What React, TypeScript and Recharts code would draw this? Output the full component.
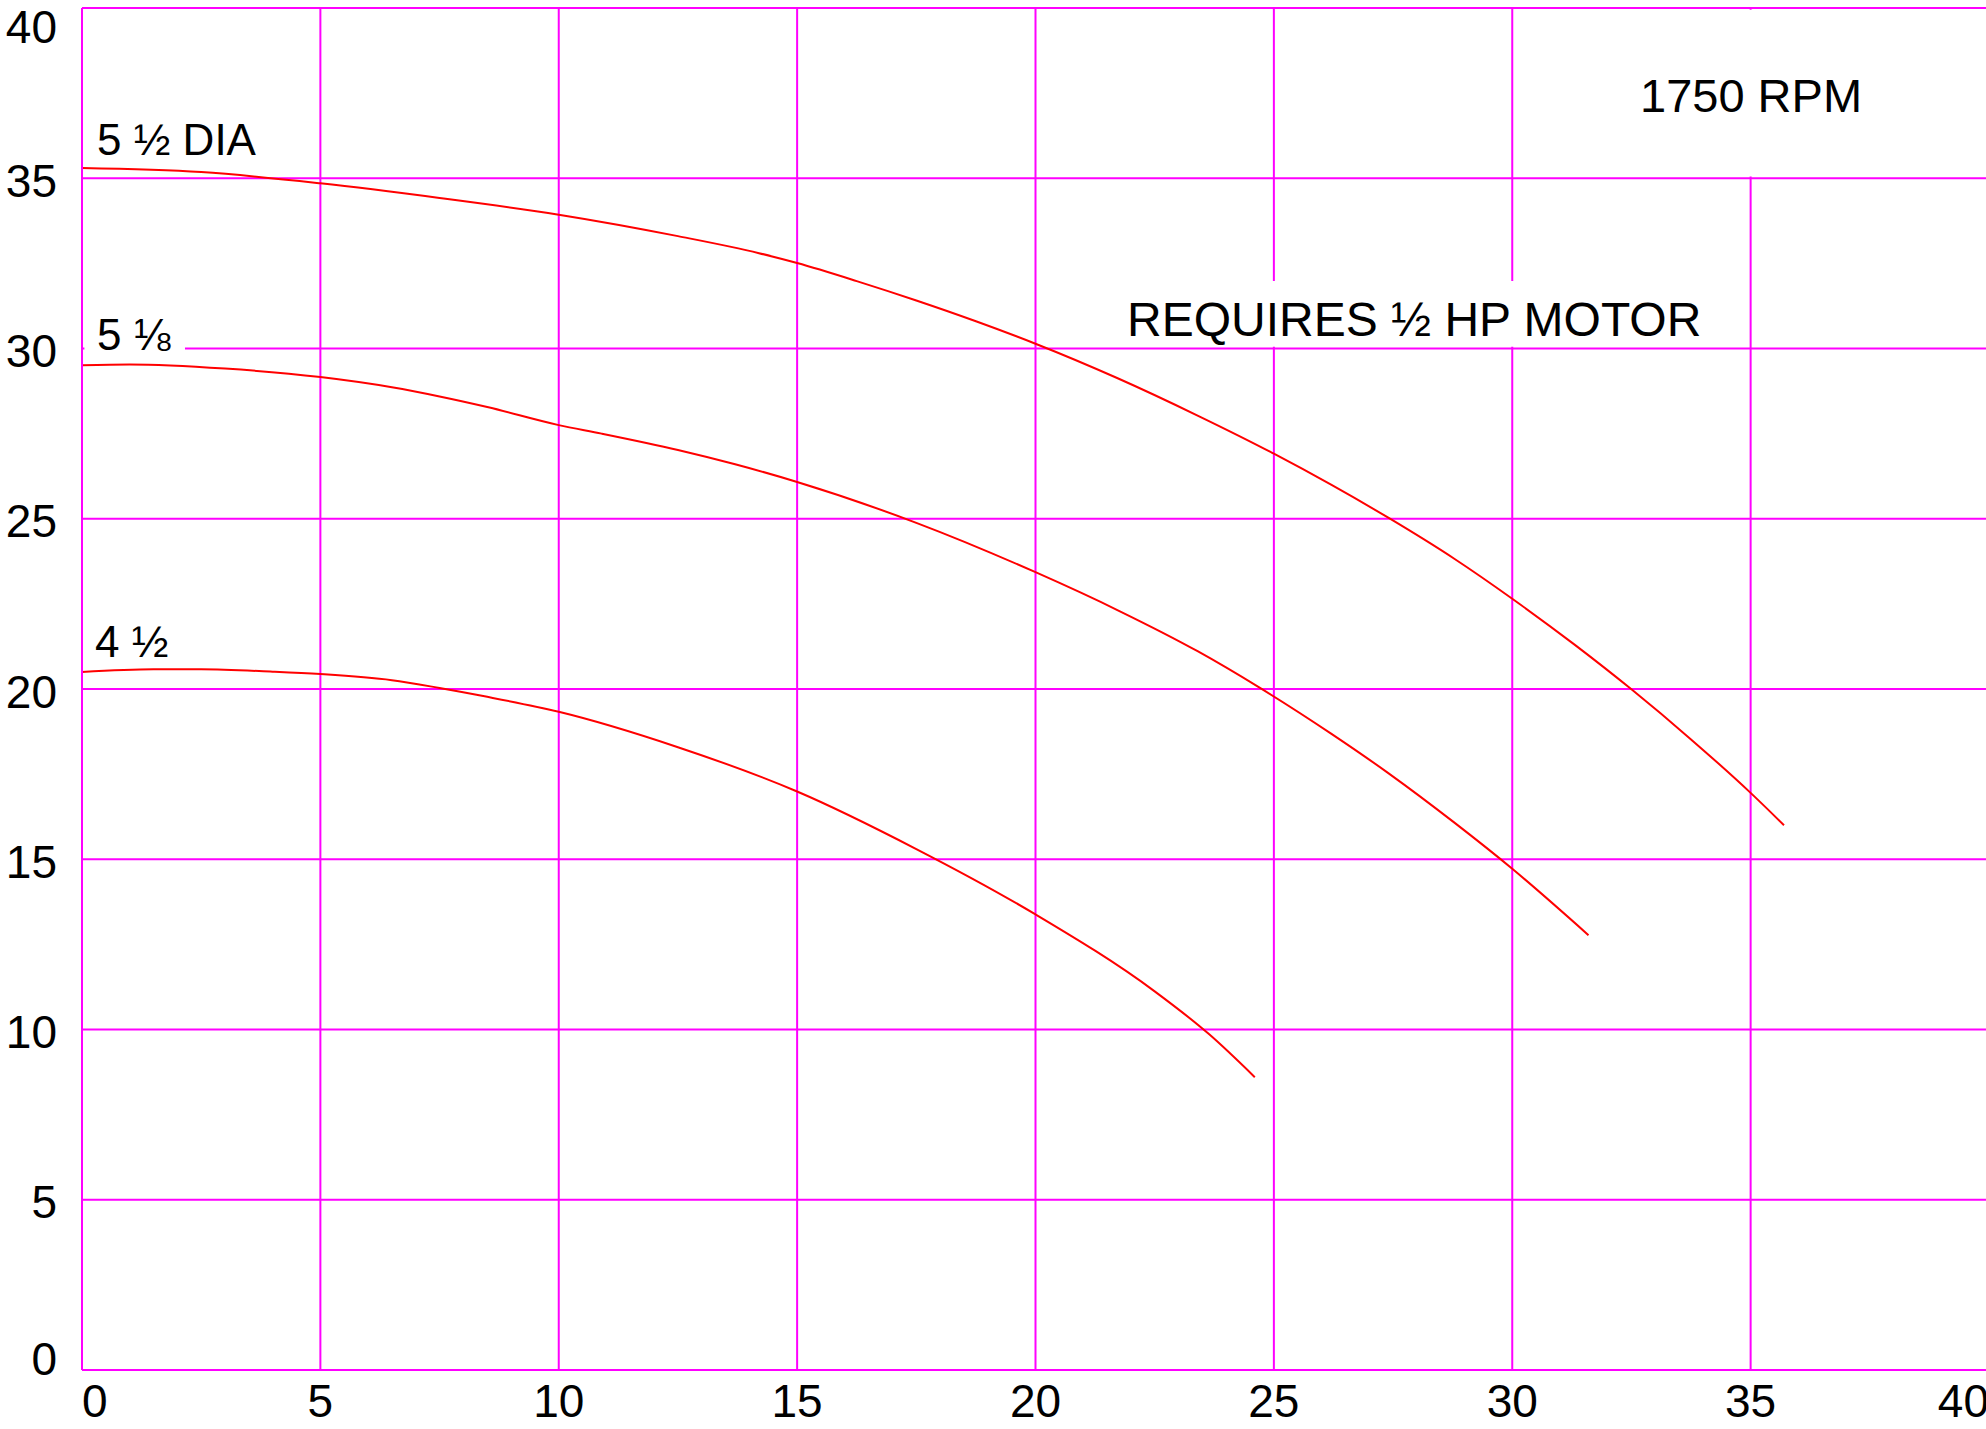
import React from "react";
import { LineChart, Line, XAxis, YAxis, CartesianGrid, ReferenceArea } from "recharts";

// flow (x) / head (y)
const flow55 = [0, 2.5, 5, 7.5, 10, 12.5, 14.2, 15, 16.25, 17.5, 18.75, 20, 21.7, 23.4, 25, 26.2, 27.4, 28.8, 30, 31.3, 32.5, 33.75, 35, 35.7];
const head55 = [35.3, 35.18, 34.85, 34.42, 33.93, 33.3, 32.8, 32.51, 31.98, 31.41, 30.8, 30.14, 29.14, 28.03, 26.91, 26.0, 25.03, 23.81, 22.65, 21.31, 19.99, 18.52, 16.95, 16.0];

const flow518 = [0, 1, 3, 5, 6.5, 7.5, 8.5, 10, 10.9, 12.5, 13.7, 15, 17.5, 20, 21.76, 23.4, 24.7, 26.2, 27.4, 28.8, 30, 31.6];
const head518 = [29.51, 29.53, 29.41, 29.16, 28.86, 28.59, 28.28, 27.75, 27.5, 27.02, 26.6, 26.08, 24.88, 23.43, 22.29, 21.11, 20.04, 18.69, 17.53, 16.06, 14.72, 12.77];

const flow45 = [0, 1.5, 2.5, 4, 5, 6.5, 7.5, 8.5, 10, 12.5, 15, 17.5, 20, 22.5, 23.65, 24.6];
const head45 = [20.5, 20.58, 20.58, 20.51, 20.44, 20.26, 20.03, 19.77, 19.33, 18.29, 16.99, 15.3, 13.38, 11.12, 9.85, 8.6];

const xTicks = [0, 5, 10, 15, 20, 25, 30, 35, 40];
const yTicks = [0, 5, 10, 15, 20, 25, 30, 35, 40];

const toSeries = (xs: number[], ys: number[]) => xs.map((q, i) => ({ q, h: ys[i] }));

const GRID = "#ff00ff";
const CURVE = "#ff0000";
const FONT = '"Liberation Sans", Arial, Helvetica, sans-serif';
const FS = 46;

const XTick = (props: any) => {
  const { x, y, payload } = props;
  const v = payload.value;
  const anchor = v === 0 ? "start" : v === 40 ? "end" : "middle";
  return (
    <text x={x} y={y + 47} textAnchor={anchor} fontFamily={FONT} fontSize={FS} fill="#000">
      {v}
    </text>
  );
};

const YTick = (props: any) => {
  const { x, y, payload } = props;
  const v = payload.value;
  const dy = v === 40 ? 35 : v === 0 ? 5 : 18.5;
  return (
    <text x={x - 25} y={y + dy} textAnchor="end" fontFamily={FONT} fontSize={FS} fill="#000">
      {v}
    </text>
  );
};

export default function App() {
  const textStyle = { fontFamily: FONT, fontSize: FS, fill: "#000" };
  return (
    <div
      style={{
        position: "absolute",
        left: 0,
        top: 0,
        width: 1986,
        height: 1429,
        overflow: "hidden",
        background: "#fff",
      }}
    >
      <LineChart width={2000} height={1429} margin={{ top: 8, right: 11, bottom: 0, left: 0 }}>
        <CartesianGrid stroke={GRID} strokeWidth={2} />
        <XAxis
          type="number"
          dataKey="q"
          domain={[0, 40]}
          ticks={xTicks}
          interval={0}
          height={59}
          tickSize={0}
          tickMargin={0}
          tickLine={false}
          axisLine={{ stroke: GRID, strokeWidth: 2 }}
          tick={<XTick />}
        />
        <YAxis
          type="number"
          dataKey="h"
          domain={[0, 40]}
          ticks={yTicks}
          interval={0}
          width={82}
          tickSize={0}
          tickMargin={0}
          tickLine={false}
          axisLine={{ stroke: GRID, strokeWidth: 2 }}
          tick={<YTick />}
        />
        {/* white gaps in the grid behind the labels */}
        <ReferenceArea x1={0.05} x2={2.16} y1={29.85} y2={30.15} fill="#fff" fillOpacity={1} stroke="none" />
        <ReferenceArea x1={21.77} x2={34.04} y1={30.05} y2={31.98} fill="#fff" fillOpacity={1} stroke="none" />
        <ReferenceArea x1={34.9} x2={35.1} y1={35.05} y2={39.95} fill="#fff" fillOpacity={1} stroke="none" />
        <Line data={toSeries(flow55, head55)} dataKey="h" type="monotone" stroke={CURVE} strokeWidth={2} dot={false} isAnimationActive={false} />
        <Line data={toSeries(flow518, head518)} dataKey="h" type="monotone" stroke={CURVE} strokeWidth={2} dot={false} isAnimationActive={false} />
        <Line data={toSeries(flow45, head45)} dataKey="h" type="monotone" stroke={CURVE} strokeWidth={2} dot={false} isAnimationActive={false} />
      </LineChart>
      <svg width={1986} height={1429} style={{ position: "absolute", left: 0, top: 0, pointerEvents: "none" }}>
        <text x={97} y={155} {...textStyle} fontSize={44}>5 ½ DIA</text>
        <text x={97} y={350} {...textStyle} fontSize={44}>5 ⅛</text>
        <text x={95} y={657} {...textStyle} fontSize={44}>4 ½</text>
        <text x={1640} y={112} {...textStyle} fontSize={47}>1750 RPM</text>
        <text x={1127} y={336} {...textStyle} fontSize={48}>REQUIRES ½ HP MOTOR</text>
      </svg>
    </div>
  );
}
